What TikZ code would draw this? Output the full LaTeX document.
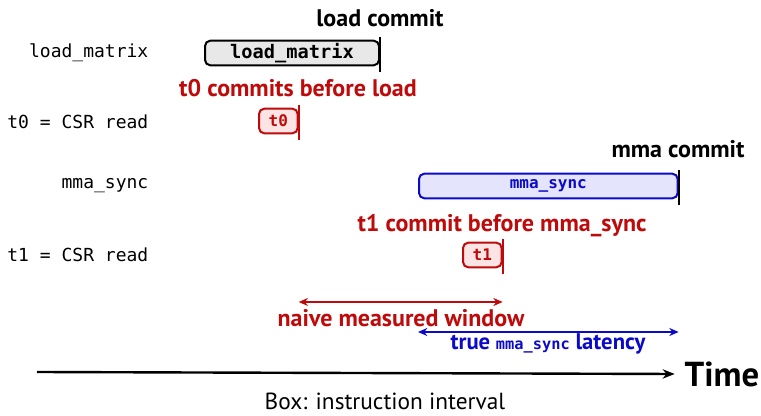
\documentclass[tikz,border=0pt]{standalone}
\usepackage{fontspec}
\setmainfont{PT Sans}
\setmonofont{DejaVu Sans Mono}
\usetikzlibrary{arrows.meta}
\definecolor{cred}{RGB}{190,10,10}
\definecolor{cblue}{RGB}{10,10,200}
\definecolor{fgray}{RGB}{232,232,232}
\definecolor{fred}{RGB}{252,228,228}
\definecolor{fblue}{RGB}{228,228,252}
\tikzset{
	rowlabel/.style={anchor=east,font=\fontsize{13.5}{15}\selectfont\ttfamily},
	interval/.style={draw,rounded corners=4pt,line width=1.5pt,inner sep=0pt,minimum height=18.5pt,anchor=west},
	commitbar/.style={line width=1.5pt},
	note/.style={font=\fontsize{18}{20}\selectfont\bfseries},
	span/.style={line width=1.5pt,{Stealth[length=7pt,width=6pt]}-{Stealth[length=7pt,width=6pt]}}
}
\begin{document}
\begin{tikzpicture}[x=0.75pt,y=-0.75pt]
			\useasboundingbox (0,0) rectangle (761,416);
			% row labels
			\node[rowlabel] (lmlab) at (153,53) {load\_matrix};
			\node[rowlabel] (t0lab) at (153,122) {t0 = CSR read};
			\node[rowlabel] (mmalab) at (153,186) {mma\_sync};
			\node[rowlabel] (t1lab) at (153,255) {t1 = CSR read};
			% intervals
			\node[interval,fill=fgray,minimum width=130.5pt,font=\fontsize{14}{15}\selectfont\ttfamily\bfseries] (lm) at (204,53) {load\_matrix};
			\node[interval,draw=cred,fill=fred,text=cred,minimum width=29pt,font=\fontsize{12}{13}\selectfont\ttfamily\bfseries] (t0) at (258,121) {t0};
			\node[interval,draw=cblue,fill=fblue,text=cblue,minimum width=194pt,font=\fontsize{12}{13}\selectfont\ttfamily\bfseries] (mma) at (418,186) {mma\_sync};
			\node[interval,draw=cred,fill=fred,text=cred,minimum width=29pt,font=\fontsize{12}{13}\selectfont\ttfamily\bfseries] (t1) at (462,255) {t1};
			% commit points
			\draw[commitbar] ([yshift=2pt]lm.north east) -- ([yshift=-4pt]lm.south east);
			\draw[commitbar,cred] ([yshift=2pt]t0.north east) -- ([yshift=-4pt]t0.south east);
			\draw[commitbar] ([yshift=2pt]mma.north east) -- ([yshift=-4pt]mma.south east);
			\draw[commitbar,cred] ([yshift=2pt]t1.north east) -- ([yshift=-4pt]t1.south east);
			\node[note] (lmc) at (380,18) {load commit};
			\node[note,cred] (t0c) at (298,88) {t0 commits before load};
			\node[note] (mmac) at (678,149) {mma commit};
			\node[note,cred] (t1c) at (502,226) {t1 commit before mma\_sync};
			% windows
			\coordinate (naivea) at (t0.east |- 0,302);
			\coordinate (naiveb) at (t1.east |- 0,302);
			\draw[span,cred] (naivea) -- (naiveb);
			\node[cred,font=\fontsize{18}{20}\selectfont\bfseries] (naivelab) at (401,318) {naive measured window};
			\coordinate (truea) at (mma.west |- 0,332);
			\coordinate (trueb) at (mma.east |- 0,332);
			\draw[span,cblue] (truea) -- (trueb);
			\node[cblue,font=\fontsize{17}{19}\selectfont\bfseries] (truelab) at (548,344) {true {\fontsize{11.5}{13}\selectfont\ttfamily mma\_sync} latency};
			% time axis
			\coordinate (t00) at (37,372);
			\node[anchor=west,font=\fontsize{26}{28}\selectfont\bfseries] (time) at (680,374) {Time};
			\draw[line width=1.8pt,-{Stealth[length=9pt,width=7pt]}] (t00) -- ([xshift=-4pt]time.west);
			\node[font=\fontsize{17.5}{19}\selectfont] (boxlab) at (385,401) {Box: instruction interval};
		\end{tikzpicture}
\end{document}
